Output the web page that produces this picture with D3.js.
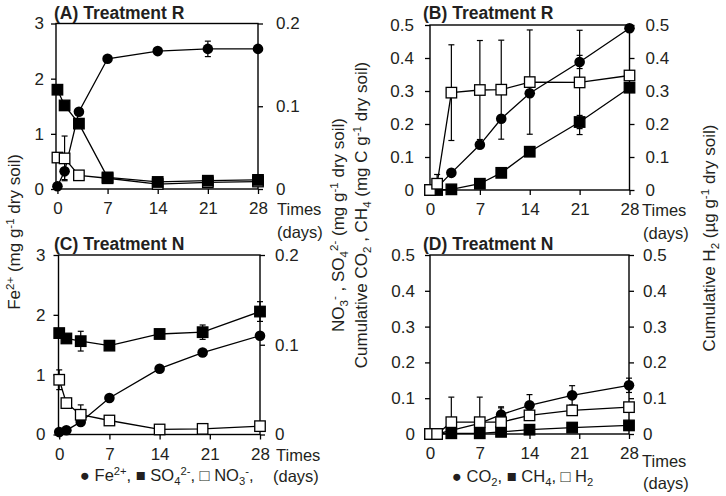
<!DOCTYPE html>
<html><head><meta charset="utf-8">
<script src="https://cdn.jsdelivr.net/npm/d3@7/dist/d3.min.js"></script>
<style>
body{margin:0;background:#fff}
text{font-family:"Liberation Sans",Arial,Helvetica,sans-serif;fill:#231f20}
</style>
</head><body>
<svg id="c" width="726" height="496"></svg>
<script>
// ---------- data ----------
const daysA = [0, 1, 3, 7, 14, 21, 28];
const feA = [0.05, 0.32, 1.40, 2.36, 2.50, 2.54, 2.54];
const feAErr = [0.02, 0.15, 0.05, 0.03, 0.04, 0.14, 0.05];
const so4A = [0.120, 0.101, 0.079, 0.014, 0.0085, 0.010, 0.011];
const so4AErr = [0.003, 0.004, 0.003, 0.002, 0.002, 0.002, 0.002];
const no3A = [0.038, 0.037, 0.0165, 0.013, 0.006, 0.008, 0.009];
const no3AErr = [0.002, 0.027, 0.002, 0.002, 0.001, 0.001, 0.001];

const daysB = [0, 1, 3, 7, 10, 14, 21, 28];
const co2B = [0, 0.008, 0.052, 0.137, 0.216, 0.293, 0.388, 0.490];
const co2BErr = [0, 0.005, 0.005, 0.01, 0.01, 0.01, 0.02, 0.01];
const ch4B = [0, 0, 0.002, 0.019, 0.052, 0.116, 0.206, 0.310];
const ch4BErr = [0, 0, 0, 0.002, 0.005, 0.005, 0.02, 0.01];
const h2B = [0, 0.019, 0.295, 0.303, 0.304, 0.327, 0.326, 0.347];
const h2BErr = [0, 0.028, 0.145, 0.15, 0.15, 0.158, 0.158, 0.01];

const daysC = [0, 1, 3, 7, 14, 20, 28];
const feC = [0.04, 0.07, 0.21, 0.61, 1.10, 1.37, 1.65];
const feCErr = [0.02, 0.02, 0.03, 0.03, 0.03, 0.03, 0.05];
const so4C = [0.113, 0.107, 0.104, 0.099, 0.112, 0.114, 0.137];
const so4CErr = [0.003, 0.003, 0.011, 0.002, 0.002, 0.008, 0.011];
const no3C = [0.061, 0.035, 0.022, 0.0156, 0.0056, 0.0063, 0.0093];
const no3CErr = [0.011, 0.002, 0.011, 0.002, 0.001, 0.001, 0.001];

const daysD = [0, 1, 3, 7, 10, 14, 20, 28];
const co2D = [0, 0, 0.01, 0.03, 0.054, 0.080, 0.108, 0.136];
const co2DErr = [0, 0, 0.01, 0.01, 0.022, 0.03, 0.027, 0.02];
const ch4D = [0, 0, 0.002, 0.002, 0.006, 0.012, 0.018, 0.024];
const ch4DErr = [0, 0, 0.002, 0.002, 0.003, 0.005, 0.005, 0.005];
const h2D = [0, 0, 0.033, 0.033, 0.033, 0.052, 0.066, 0.075];
const h2DErr = [0, 0, 0.07, 0.07, 0.04, 0.01, 0.01, 0.01];

const dayTicks = [0, 7, 14, 21, 28];
const feTicks = [0, 1, 2, 3];
const anionTicks = [0, 0.1, 0.2];
const gasTicks = [0, 0.1, 0.2, 0.3, 0.4, 0.5];
const titles = ["(A) Treatment R", "(B) Treatment R", "(C) Treatment N", "(D) Treatment N"];

// ---------- helpers ----------
const svg = d3.select("#c");
const fmt = d => d === 0 ? "0" : d3.format(".1f")(d);
const fmtInt = d => String(d);

function rich(sel, parts, size) {
  // parts: [text, kind] kind: n | sup | sub
  let shift = 0;
  parts.forEach(([t, k]) => {
    const target = k === "sup" ? -0.38 * size : k === "sub" ? 0.22 * size : 0;
    const ts = sel.append("tspan").text(t).attr("dy", target - shift)
      .attr("font-size", k === "n" ? size : size * 0.68);
    shift = target;
  });
}

function panel(cfg) {
  const g = svg.append("g");
  const x = d3.scaleLinear().domain(cfg.xdom).range([cfg.x0, cfg.x1]);
  const yl = d3.scaleLinear().domain(cfg.ldom).range([cfg.y1, cfg.y0]);
  const yr = d3.scaleLinear().domain(cfg.rdom).range([cfg.y1, cfg.y0]);

  const ax = a => a.selectAll("text").attr("font-size", 17).style("font-family", "Liberation Sans, Arial, sans-serif").attr("fill", "#231f20");
  g.append("g").attr("transform", `translate(${cfg.x0},0)`)
    .call(d3.axisLeft(yl).tickValues(cfg.lticks).tickFormat(cfg.lfmt).tickSize(5).tickSizeOuter(0).tickPadding(cfg.lpad))
    .call(a => { a.select(".domain").remove(); a.selectAll("line").attr("stroke", "#000").attr("stroke-width", 1.3); ax(a); });
  g.append("g").attr("transform", `translate(${cfg.x1},0)`)
    .call(d3.axisRight(yr).tickValues(cfg.rticks).tickFormat(cfg.rfmt).tickSize(5).tickSizeOuter(0).tickPadding(cfg.rpad))
    .call(a => { a.select(".domain").remove(); a.selectAll("line").attr("stroke", "#000").attr("stroke-width", 1.3); ax(a); });
  g.append("g").attr("transform", `translate(0,${cfg.y1})`)
    .call(d3.axisBottom(x).tickValues(dayTicks).tickFormat(fmtInt).tickSize(5).tickSizeOuter(0).tickPadding(8))
    .call(a => { a.select(".domain").remove(); a.selectAll("line").attr("stroke", "#000").attr("stroke-width", 1.3); ax(a); });
  g.append("rect").attr("x", cfg.x0).attr("y", cfg.y0).attr("width", cfg.x1 - cfg.x0).attr("height", cfg.y1 - cfg.y0)
    .attr("fill", "none").attr("stroke", "#000").attr("stroke-width", 1.4);

  // series
  cfg.series.forEach(s => {
    const y = s.axis === "l" ? yl : yr;
    const pts = cfg.days.map((d, i) => ({ d, v: s.v[i], e: s.e[i] }));
    const sg = g.append("g");
    sg.append("path").datum(pts)
      .attr("d", d3.line().x(p => x(p.d)).y(p => y(p.v)))
      .attr("fill", "none").attr("stroke", "#000").attr("stroke-width", 1.3);
    pts.filter(p => p.e > 0).forEach(p => {
      const cx = x(p.d), ya = y(p.v + p.e), yb = y(Math.max(0, p.v - p.e));
      sg.append("line").attr("x1", cx).attr("x2", cx).attr("y1", ya).attr("y2", yb).attr("stroke", "#000").attr("stroke-width", 1.2);
      sg.append("line").attr("x1", cx - 3).attr("x2", cx + 3).attr("y1", ya).attr("y2", ya).attr("stroke", "#000").attr("stroke-width", 1.2);
      sg.append("line").attr("x1", cx - 3).attr("x2", cx + 3).attr("y1", yb).attr("y2", yb).attr("stroke", "#000").attr("stroke-width", 1.2);
    });
    s.layer = { sg, pts, y };
  });
  cfg.series.forEach(s => {
    const { sg, pts, y } = s.layer;
    if (s.m === "circle") {
      sg.selectAll("circle").data(pts).join("circle")
        .attr("cx", p => x(p.d)).attr("cy", p => y(p.v)).attr("r", 5.3).attr("fill", "#000");
      sg.raise();
    } else {
      const sz = 10.5;
      sg.selectAll("rect").data(pts).join("rect")
        .attr("x", p => x(p.d) - sz / 2).attr("y", p => y(p.v) - sz / 2)
        .attr("width", sz).attr("height", sz)
        .attr("fill", s.m === "filled" ? "#000" : "#fff").attr("stroke", "#000").attr("stroke-width", 1.3);
      sg.raise();
    }
  });

  g.append("text").attr("x", cfg.tx).attr("y", cfg.ty).attr("font-size", 17.5).attr("font-weight", "bold").text(cfg.title);
  g.append("text").attr("x", cfg.timesX).attr("y", cfg.timesY).attr("font-size", 16.5).text("Times");
  g.append("text").attr("x", cfg.daysX).attr("y", cfg.daysY).attr("font-size", 16.5).text("(days)");
}

panel({
  title: titles[0], tx: 54, ty: 19,
  x0: 56, x1: 258, y0: 23.5, y1: 189, xdom: [-0.2, 28],
  ldom: [0, 3], rdom: [0, 0.2], lticks: feTicks, rticks: anionTicks, lfmt: fmtInt, rfmt: fmt, lpad: 7, rpad: 13,
  days: daysA,
  series: [
    { v: feA, e: feAErr, axis: "l", m: "circle" },
    { v: no3A, e: no3AErr, axis: "r", m: "open" },
    { v: so4A, e: so4AErr, axis: "r", m: "filled" }
  ],
  timesX: 277, timesY: 215, daysX: 277, daysY: 238
});
panel({
  title: titles[1], tx: 423, ty: 19,
  x0: 430, x1: 629.5, y0: 25, y1: 190, xdom: [0, 28],
  ldom: [0, 0.5], rdom: [0, 0.5], lticks: gasTicks, rticks: gasTicks, lfmt: fmt, rfmt: fmt, lpad: 11, rpad: 11,
  days: daysB,
  series: [
    { v: co2B, e: co2BErr, axis: "l", m: "circle" },
    { v: ch4B, e: ch4BErr, axis: "l", m: "filled" },
    { v: h2B, e: h2BErr, axis: "r", m: "open" }
  ],
  timesX: 642, timesY: 216, daysX: 643, daysY: 239
});
panel({
  title: titles[2], tx: 54, ty: 250,
  x0: 58.5, x1: 260, y0: 255, y1: 434.5, xdom: [-0.1, 28],
  ldom: [0, 3], rdom: [0, 0.2], lticks: feTicks, rticks: anionTicks, lfmt: fmtInt, rfmt: fmt, lpad: 8, rpad: 10,
  days: daysC,
  series: [
    { v: feC, e: feCErr, axis: "l", m: "circle" },
    { v: so4C, e: so4CErr, axis: "r", m: "filled" },
    { v: no3C, e: no3CErr, axis: "r", m: "open" }
  ],
  timesX: 276, timesY: 461, daysX: 273, daysY: 482
});
panel({
  title: titles[3], tx: 423, ty: 250,
  x0: 430, x1: 629, y0: 255, y1: 434, xdom: [0, 28],
  ldom: [0, 0.5], rdom: [0, 0.5], lticks: gasTicks, rticks: gasTicks, lfmt: fmt, rfmt: fmt, lpad: 10, rpad: 9,
  days: daysD,
  series: [
    { v: co2D, e: co2DErr, axis: "l", m: "circle" },
    { v: ch4D, e: ch4DErr, axis: "l", m: "filled" },
    { v: h2D, e: h2DErr, axis: "r", m: "open" }
  ],
  timesX: 642, timesY: 467, daysX: 643, daysY: 489
});

// ---------- axis titles ----------
function vlabel(x, y, parts, size) {
  const t = svg.append("text").attr("transform", `translate(${x},${y}) rotate(-90)`)
    .attr("text-anchor", "middle").attr("font-size", size);
  rich(t, parts, size);
}
vlabel(20, 232, [["Fe", "n"], ["2+", "sup"], [" (mg g", "n"], ["-1", "sup"], [" dry soil)", "n"]], 17);
vlabel(344, 225, [["NO", "n"], ["3", "sub"], ["-", "sup"], [" , SO", "n"], ["4", "sub"], ["2-", "sup"], [" (mg g", "n"], ["-1", "sup"], [" dry soil)", "n"]], 17);
vlabel(367, 215, [["Cumulative CO", "n"], ["2", "sub"], [" , CH", "n"], ["4", "sub"], ["  (mg C g", "n"], ["-1", "sup"], [" dry soil)", "n"]], 17);
vlabel(715, 238, [["Cumulative H", "n"], ["2", "sub"], [" (\u00b5g g", "n"], ["-1", "sup"], [" dry soil)", "n"]], 17);

// ---------- legends ----------
function hlabel(x, y, parts, size) {
  const t = svg.append("text").attr("x", x).attr("y", y).attr("font-size", size);
  rich(t, parts, size);
}
hlabel(80, 481, [["\u25cf Fe", "n"], ["2+", "sup"], [", \u25a0 SO", "n"], ["4", "sub"], ["2-", "sup"], [", \u25a1 NO", "n"], ["3", "sub"], ["-", "sup"], [",", "n"]], 16.5);
hlabel(452, 482, [["\u25cf CO", "n"], ["2", "sub"], [", \u25a0 CH", "n"], ["4", "sub"], [", \u25a1 H", "n"], ["2", "sub"]], 16.5);
</script>
</body></html>
